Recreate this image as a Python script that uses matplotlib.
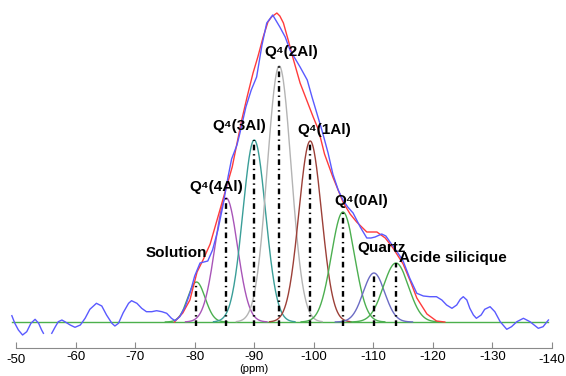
import matplotlib
matplotlib.use("Agg")
import matplotlib.pyplot as plt
import matplotlib.transforms as mtransforms
import numpy as np

plt.rcParams['font.family'] = ['Liberation Sans', 'DejaVu Sans']

# experimental spectrum (blue), ppm / intensity (arb. units)
exp_ppm = [-49.3, -49.8, -50.4, -51.1, -51.8, -52.5, -53.2, -53.8, -54.3, -54.6, np.nan,
           -56.0, -56.6, -57.1, -57.7, -58.2, -59.1, -59.9, -60.8, -61.6, -62.4, -63.5, -64.4,
           -65.2, -66.1, -66.6, -67.2, -68.0, -68.9, -69.4, -70.3, -71.1, -71.9, -72.8, -73.6,
           -74.5, -75.3, -76.1, -76.7, -77.5, -78.4, -79.2, -80.0, -80.9, -82.2, -83.0, -83.9,
           -84.7, -85.6, -86.2, -87.1, -87.6, -88.6, -89.5, -90.4, -91.3, -92.1, -93.1, -94.3,
           -95.2, -96.0, -97.7, -98.9, -99.7, -100.4, -101.4, -102.4, -103.2, -104.1, -104.9,
           -105.7, -106.6, -107.8, -108.9, -109.6, -110.3, -111.4, -112.1, -112.8, -113.9, -115.0,
           -116.1, -117.3, -118.4, -119.5, -120.6, -121.5, -122.3, -123.2, -124.0, -124.6, -125.1,
           -125.7, -126.2, -126.8, -127.3, -128.1, -128.7, -129.6, -130.4, -131.3, -132.4, -133.2,
           -134.1, -135.2, -136.3, -137.7, -138.5, -139.4]
exp_int = [6.3, -1.3, -8, -13, -9.7, -1.3, 2.7, -1.3, -8, -11.3, np.nan,
           -11.3, -4.7, 0.3, 2, 0.3, -3, -5.3, -3, 3.7, 12.7, 18.7, 16,
           7, -1.3, -4, -1.3, 9.3, 18.7, 21.3, 18.7, 13.7, 10.3, 10.3, 11.3,
           10.3, 8.7, 3.7, 1.3, 5.3, 15.3, 28.7, 46, 59, 61, 72, 92,
           115, 145, 163, 177, 189, 215, 232, 245, 277, 299, 307, 295,
           285, 272, 255, 242, 225, 211, 191, 169, 148, 132, 122,
           115, 109, 95, 84, 84, 85, 88, 86, 80, 71, 61,
           44, 28.7, 26, 25.3, 25.3, 22, 17, 13.7, 17, 22.7, 25.3,
           22, 13.7, 7, 3.7, 7, 12.7, 15.3, 10.3, 0.3, -7.3, -4.7,
           0.3, 3.7, 0.3, -6.3, -4.7, 2]

# fitted envelope (red)
fit_ppm = [-76.6, -78.0, -79.2, -80.4, -81.4, -82.6, -83.9, -85.1, -86.3, -87.9, -88.8, -89.8,
           -90.6, -91.5, -92.3, -92.9, -93.8, -94.3, -94.9, -95.7, -96.6, -97.7, -98.8, -99.9,
           -100.8, -101.8, -103.2, -104.9, -106.1, -107.2, -108.9, -109.9, -110.6, -112.0, -113.3,
           -115.0, -116.2, -117.3, -119.0, -120.6, -122.0]
fit_int = [0, 9, 22, 50, 62, 78, 105, 130, 155, 202, 225, 249,
           265, 285, 300, 305, 309, 306, 299, 282, 262, 239, 222, 205,
           192, 168, 145, 120, 108, 100, 90, 90, 90, 84, 74,
           58, 41, 24, 8, 1, 0]

# decomposition components
names = ['Solution', 'Q\u2074(4Al)', 'Q\u2074(3Al)', 'Q\u2074(2Al)', 'Q\u2074(1Al)',
         'Q\u2074(0Al)', 'Quartz', 'Acide silicique']
centers = [-80.3, -85.3, -90.0, -94.2, -99.4, -104.9, -110.1, -113.8]
heights = [40, 124, 182, 256, 181, 110, 49, 59]
widths = [1.45, 1.9, 1.9, 2.0, 1.9, 1.95, 1.8, 2.1]
colors = ['#4caf50', '#a855b8', '#3a9e98', '#b4b4b4', '#9c4038', '#4caf50', '#6b6bc4', '#4caf50']
label_x = [-77.0, -83.6, -87.4, -96.2, -101.7, -107.9, -111.3, -123.4]
label_y = [69, 135, 196, 270, 192, 121, 74, 64]

ticks = list(range(-50, -141, -10))

fig = plt.figure(figsize=(5.66, 3.76), dpi=100)
ax = fig.add_axes([0, 28 / 376, 1, 348 / 376])
ax.set_xlim(-47.31, -142.35)
ax.set_ylim(-26, 322)

# baseline
ax.plot([-49.3, -139.3], [0, 0], color='#4cb04c', lw=1.0, zorder=2)

for c, h, s, col in zip(centers, heights, widths, colors):
    xs = np.linspace(c - 3.6 * s, c + 3.6 * s, 200)
    ax.plot(xs, h * np.exp(-0.5 * ((xs - c) / s) ** 2), color=col, lw=1.0, zorder=3)
    ax.plot([c, c], [-4, h], color='black', lw=1.7, ls=(0, (2.4, 1.6, 0.6, 1.6)), zorder=4)

ax.plot(fit_ppm, fit_int, color='#ff3b3b', lw=1.0, zorder=5)
ax.plot(exp_ppm, exp_int, color='#5a5aff', lw=1.0, zorder=5)

for n, lx, ly in zip(names, label_x, label_y):
    ax.text(lx, ly, n, ha='center', va='center', fontsize=11, fontweight='bold', zorder=6)

for s in ['left', 'top', 'right']:
    ax.spines[s].set_visible(False)
ax.spines['bottom'].set_color('#8a8a8a')
ax.spines['bottom'].set_bounds(-50, -140)
ax.set_yticks([])
ax.set_xticks(ticks)
ax.set_xticklabels([str(t) for t in ticks])
ax.tick_params(axis='x', direction='in', length=4, color='#8a8a8a', labelsize=9.5, pad=2.5)
for lab in (ax.get_xticklabels()[0], ax.get_xticklabels()[-1]):
    lab.set_transform(lab.get_transform() + mtransforms.ScaledTranslation(0, -2 / 72, fig.dpi_scale_trans))
ax.set_xlabel('(ppm)', fontsize=8)
ax.xaxis.set_label_coords(254 / 566, -16 / 348)
ax.patch.set_visible(False)

fig.savefig('out.png', dpi=100)
